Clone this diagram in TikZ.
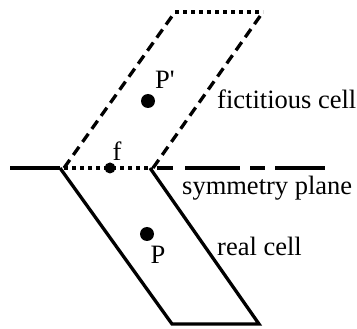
\documentclass[tikz,border=0pt]{standalone}
\usepackage{fontspec}
\setmainfont{Liberation Serif}
\begin{document}
\begin{tikzpicture}[x=1pt,y=-1pt,
  solidline/.style={line width=3.3pt,line join=miter},
  dashline/.style={line width=3.3pt,dash pattern=on 10pt off 6pt},
  dotline/.style={line width=3.3pt,dash pattern=on 4pt off 4pt},
  planedash/.style={line width=3.3pt,dash pattern=on 16pt off 12pt on 55pt off 10pt on 15pt off 10pt on 50pt off 20pt},
  dot/.style={circle,fill=black,inner sep=0pt},
  lbl/.style={font=\fontsize{26.5}{30}\selectfont,inner sep=0pt}]
\useasboundingbox (0,0) rectangle (357,329);
% corners
\coordinate (pl) at (10,168);
\coordinate (rA) at (60,168);
\coordinate (rB) at (150,168);
\coordinate (rC) at (259,324);
\coordinate (rD) at (172,324);
\coordinate (fA) at (64,168);
\coordinate (fB) at (153,168);
\coordinate (fC) at (263,12);
\coordinate (fD) at (175,12);
\coordinate (pd) at (157,168);
\coordinate (pe) at (326,168);
% plane
\draw[solidline] (pl) -- (rA);
\draw[planedash] (pd) -- (pe);
% real cell
\draw[solidline] (rB) -- (rC) -- (rD) -- (rA);
% fictitious cell
\draw[dashline] (fA) -- (fD);
\draw[dashline] (fB) -- (fC);
\draw[dotline] (fD) -- (fC);
\draw[dotline] (fA) -- (fB);
% dots
\node[dot,minimum size=11pt] (f) at (110,168) {};
\node[dot,minimum size=14pt] (Pp) at (148,101) {};
\node[dot,minimum size=14pt] (P) at (147,234) {};
% labels
\node[lbl] (lf) at (117,151) {f};
\node[lbl] (lPp) at (165,80) {P\textquotesingle};
\node[lbl] (lP) at (158,255) {P};
\node[lbl,anchor=west] (lfict) at (217,99) {fictitious cell};
\node[lbl,anchor=west] (lsym) at (182,188) {symmetry plane};
\node[lbl,anchor=west] (lreal) at (217,246) {real cell};
\end{tikzpicture}
\end{document}
